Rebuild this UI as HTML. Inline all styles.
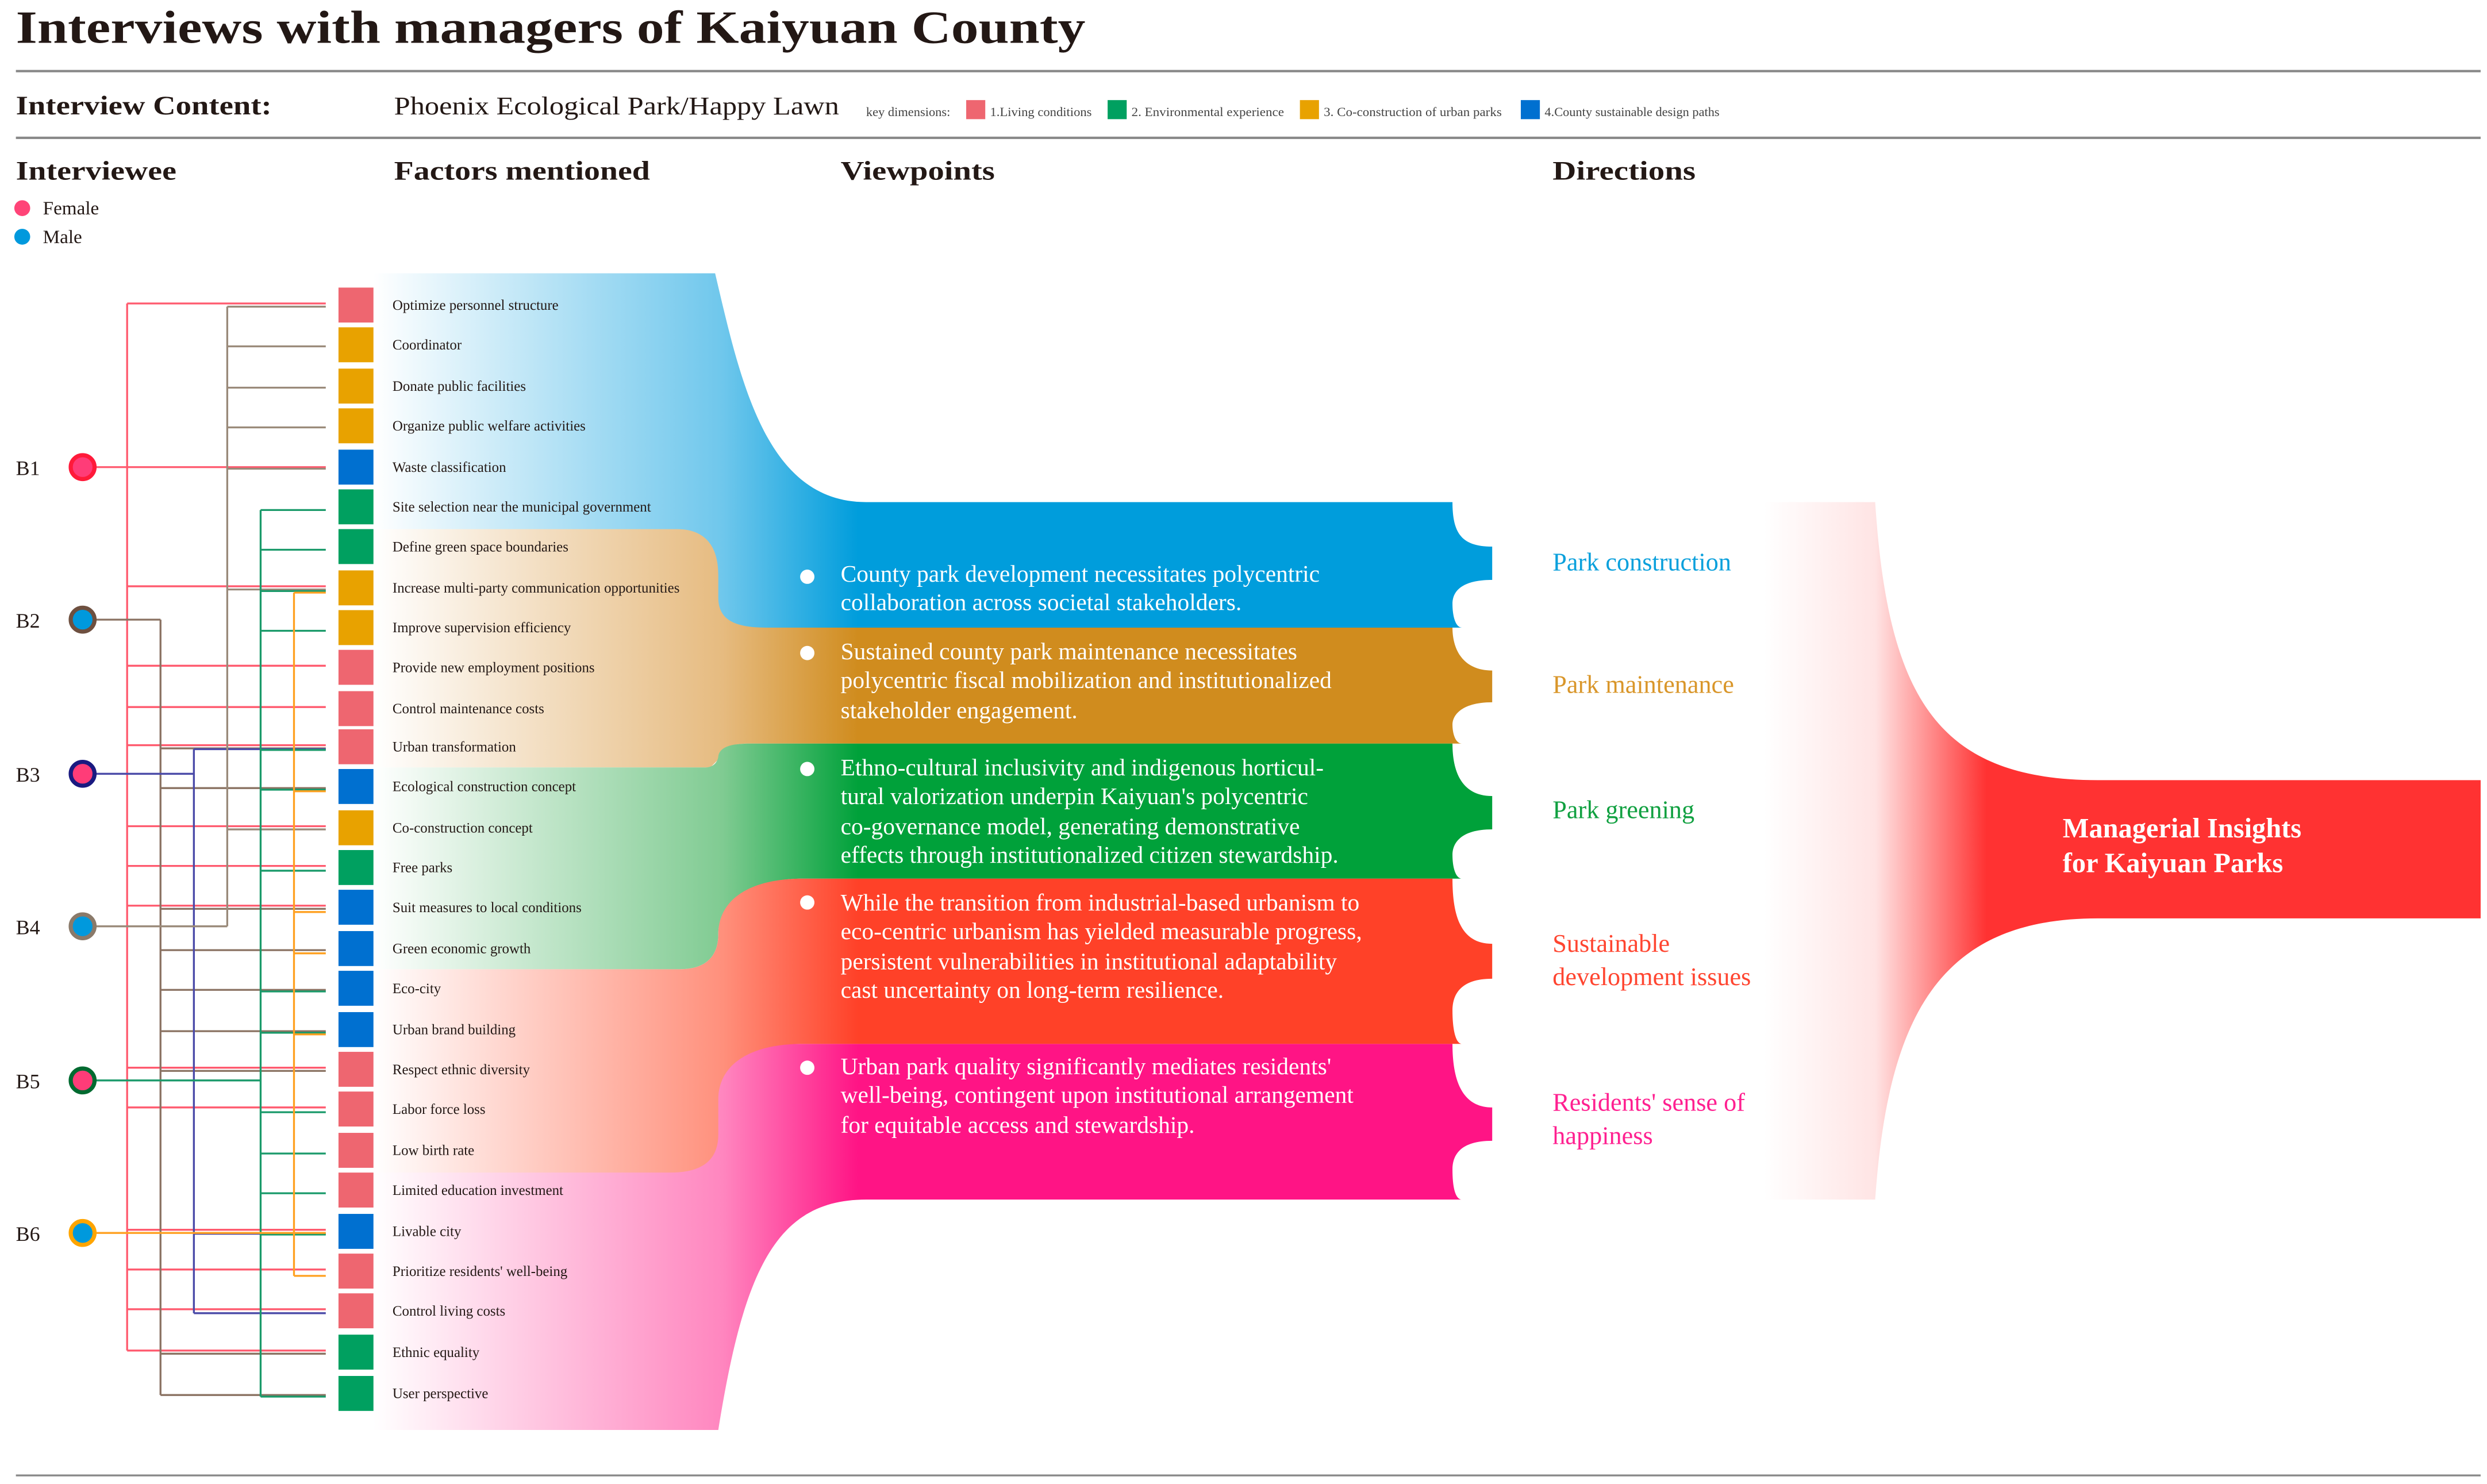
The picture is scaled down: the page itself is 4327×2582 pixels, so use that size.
<!DOCTYPE html>
<html><head><meta charset="utf-8"><style>
html,body{margin:0;padding:0;background:#fff;}
svg{display:block;}
text{font-family:"Liberation Serif",serif;}
</style></head><body>
<svg xmlns="http://www.w3.org/2000/svg" width="4327" height="2582" viewBox="0 0 1565 934" preserveAspectRatio="none">
<defs>
<linearGradient id="gB" gradientUnits="userSpaceOnUse" x1="235" y1="0" x2="540" y2="0"><stop offset="0" stop-color="#fff"/><stop offset="0.72" stop-color="#6fc7ec"/><stop offset="1" stop-color="#009ddc"/></linearGradient>
<linearGradient id="gT" gradientUnits="userSpaceOnUse" x1="235" y1="0" x2="540" y2="0"><stop offset="0" stop-color="#fff"/><stop offset="0.72" stop-color="#e6bb80"/><stop offset="1" stop-color="#d08c1e"/></linearGradient>
<linearGradient id="gG" gradientUnits="userSpaceOnUse" x1="235" y1="0" x2="540" y2="0"><stop offset="0" stop-color="#fff"/><stop offset="0.72" stop-color="#80cb92"/><stop offset="1" stop-color="#00a13a"/></linearGradient>
<linearGradient id="gR" gradientUnits="userSpaceOnUse" x1="235" y1="0" x2="540" y2="0"><stop offset="0" stop-color="#fff"/><stop offset="0.72" stop-color="#ff907c"/><stop offset="1" stop-color="#ff4128"/></linearGradient>
<linearGradient id="gP" gradientUnits="userSpaceOnUse" x1="235" y1="0" x2="540" y2="0"><stop offset="0" stop-color="#fff"/><stop offset="0.72" stop-color="#ff86bf"/><stop offset="1" stop-color="#ff1485"/></linearGradient>
<linearGradient id="gF" gradientUnits="userSpaceOnUse" x1="1110" y1="0" x2="1250" y2="0"><stop offset="0" stop-color="#fff"/><stop offset="0.5" stop-color="#ffe4e4"/><stop offset="1" stop-color="#ff3232"/></linearGradient>
</defs>

<!-- header -->
<text x="10" y="27" font-size="29" font-weight="bold" fill="#231815" textLength="673" lengthAdjust="spacingAndGlyphs">Interviews with managers of Kaiyuan County</text>
<rect x="10" y="44" width="1551" height="1.5" fill="#888"/>
<text x="10" y="72" font-size="17" font-weight="bold" fill="#231815" textLength="161" lengthAdjust="spacingAndGlyphs">Interview Content:</text>
<text x="248" y="72" font-size="16" fill="#231815" textLength="280" lengthAdjust="spacingAndGlyphs">Phoenix Ecological Park/Happy Lawn</text>
<text x="545" y="73" font-size="8" fill="#444" textLength="53" lengthAdjust="spacingAndGlyphs">key dimensions:</text>
<rect x="608" y="63" width="12" height="12" fill="#ee6670"/><text x="623" y="73" font-size="8" fill="#444" textLength="64" lengthAdjust="spacingAndGlyphs">1.Living conditions</text>
<rect x="697" y="63" width="12" height="12" fill="#00a060"/><text x="712" y="73" font-size="8" fill="#444" textLength="96" lengthAdjust="spacingAndGlyphs">2. Environmental experience</text>
<rect x="818" y="63" width="12" height="12" fill="#e8a200"/><text x="833" y="73" font-size="8" fill="#444" textLength="112" lengthAdjust="spacingAndGlyphs">3. Co-construction of urban parks</text>
<rect x="957" y="63" width="12" height="12" fill="#0070d0"/><text x="972" y="73" font-size="8" fill="#444" textLength="110" lengthAdjust="spacingAndGlyphs">4.County sustainable design paths</text>
<rect x="10" y="86" width="1551" height="1.5" fill="#888"/>
<text x="10" y="113" font-size="17" font-weight="bold" fill="#231815" textLength="101" lengthAdjust="spacingAndGlyphs">Interviewee</text>
<text x="248" y="113" font-size="17" font-weight="bold" fill="#231815" textLength="161" lengthAdjust="spacingAndGlyphs">Factors mentioned</text>
<text x="529" y="113" font-size="17" font-weight="bold" fill="#231815" textLength="97" lengthAdjust="spacingAndGlyphs">Viewpoints</text>
<text x="977" y="113" font-size="17" font-weight="bold" fill="#231815" textLength="90" lengthAdjust="spacingAndGlyphs">Directions</text>
<circle cx="14" cy="131" r="5" fill="#ff4478"/><text x="27" y="135" font-size="12" fill="#231815">Female</text>
<circle cx="14" cy="149" r="5" fill="#0099dd"/><text x="27" y="153" font-size="12" fill="#231815">Male</text>
<rect x="10" y="928" width="1551" height="1.2" fill="#888"/>

<!-- bands -->
<path fill="url(#gB)" d="M235,172 L450,172 C466,240 482,316 545,316 L914,316 C914,336 920,344 939,344 L939,365 C920,365 914,372 914,380 C914,388 916,395 920,395 L235,395 Z"/>
<path fill="url(#gT)" d="M235,333 L426,333 C444,333 452,344 452,362 L452,376 C452,390 462,395 482,395 L914,395 C914,408 920,422 939,422 L939,442 C920,442 914,450 914,456 C914,462 916,468 920,468 L470,468 C456,468 452,474 452,478 L447,483 L235,483 Z"/>
<path fill="url(#gG)" d="M235,483 L444,483 C450,483 452,478 452,476 C453,470 460,468 472,468 L914,468 C914,486 920,501 939,501 L939,522 C920,522 914,530 914,538 C914,546 916,553 920,553 L505,553 C472,553 452,568 452,588 C452,602 444,610 428,610 L235,610 Z"/>
<path fill="url(#gP)" d="M235,700 L440,700 L440,657 L914,657 C914,680 920,697 939,697 L939,718 C920,718 914,726 914,736 C914,748 916,755 920,755 L545,755 C488,755 468,800 452,900 L235,900 Z"/>
<path fill="url(#gR)" d="M235,610 L428,610 C444,610 452,602 452,588 C452,566 472,553 505,553 L914,553 C914,578 920,594 939,594 L939,616 C920,616 914,625 914,636 C914,648 916,657 920,657 L505,657 C472,657 452,670 452,692 L452,714 C452,730 442,738 422,738 L235,738 Z"/>

<!-- funnel -->
<path fill="url(#gF)" d="M960,316 L1180,316 C1188,440 1220,491 1320,491 L1561,491 L1561,578 L1320,578 C1220,578 1188,640 1180,755 L960,755 Z"/>
<text x="1298" y="527" font-size="17.5" font-weight="bold" fill="#fff">Managerial Insights</text>
<text x="1298" y="549" font-size="17.5" font-weight="bold" fill="#fff">for Kaiyuan Parks</text>

<!-- directions -->
<g font-size="16">
<text x="977" y="359" fill="#0aa0dc">Park construction</text>
<text x="977" y="436" fill="#d9962a">Park maintenance</text>
<text x="977" y="515" fill="#10a040">Park greening</text>
<text x="977" y="599" fill="#ff4530">Sustainable</text>
<text x="977" y="620" fill="#ff4530">development issues</text>
<text x="977" y="699" fill="#ff2090">Residents' sense of</text>
<text x="977" y="720" fill="#ff2090">happiness</text>
</g>

<!-- viewpoints -->
<g font-size="15" fill="#fff">
<circle cx="508" cy="363" r="4.5"/><text x="529" y="366">County park development necessitates polycentric</text><text x="529" y="384">collaboration across societal stakeholders.</text>
<circle cx="508" cy="411" r="4.5"/><text x="529" y="415">Sustained county park maintenance necessitates</text><text x="529" y="433">polycentric fiscal mobilization and institutionalized</text><text x="529" y="452">stakeholder engagement.</text>
<circle cx="508" cy="484" r="4.5"/><text x="529" y="488">Ethno-cultural inclusivity and indigenous horticul-</text><text x="529" y="506">tural valorization underpin Kaiyuan's polycentric</text><text x="529" y="525">co-governance model, generating demonstrative</text><text x="529" y="543">effects through institutionalized citizen stewardship.</text>
<circle cx="508" cy="568" r="4.5"/><text x="529" y="573">While the transition from industrial-based urbanism to</text><text x="529" y="591">eco-centric urbanism has yielded measurable progress,</text><text x="529" y="610">persistent vulnerabilities in institutional adaptability</text><text x="529" y="628">cast uncertainty on long-term resilience.</text>
<circle cx="508" cy="672" r="4.5"/><text x="529" y="676">Urban park quality significantly mediates residents'</text><text x="529" y="694">well-being, contingent upon institutional arrangement</text><text x="529" y="713">for equitable access and stewardship.</text>
</g>

<!-- connectors -->
<g fill="none" stroke-width="1.2">
<path stroke="#ff5a6e" d="M80,191V850 M80,191H205 M60,294H205 M80,369H205 M80,419H205 M80,445H205 M80,469H205 M80,520H205 M80,545H205 M80,570H205 M80,672H205 M80,697H205 M80,774H205 M80,799H205 M80,824H205 M80,850H205"/>
<path stroke="#8a7262" d="M60,390H101 M101,390V878 M101,471H205 M101,496H205 M101,572H205 M101,598H205 M101,623H205 M101,649H205 M101,674H205 M101,852H205 M101,878H205"/>
<path stroke="#4a4aa8" d="M60,487H122 M122,471.5V826.5 M122,471.5H205 M122,776.5H205 M122,826.5H205"/>
<path stroke="#9a8a7a" d="M60,583H143 M143,193V583 M143,193H205 M143,218H205 M143,244H205 M143,269H205 M143,295H205 M143,371H205 M143,522H205"/>
<path stroke="#1a9a6a" d="M60,680H164 M164,321V879 M164,321H205 M164,346H205 M164,372H205 M164,397H205 M164,472H205 M164,497H205 M164,548H205 M164,624H205 M164,650H205 M164,700H205 M164,726H205 M164,751H205 M164,777H205 M164,879H205"/>
<path stroke="#ffa020" d="M60,776H205 M185,373V803 M185,373H205 M185,498H205 M185,574H205 M185,600H205 M185,651H205 M185,803H205"/>
</g>

<!-- interviewees -->
<g font-size="13" fill="#231815">
<text x="10" y="299">B1</text><text x="10" y="395">B2</text><text x="10" y="492">B3</text><text x="10" y="588">B4</text><text x="10" y="685">B5</text><text x="10" y="781">B6</text>
</g>
<g stroke-width="2.6">
<circle cx="52" cy="294" r="7.5" fill="#ff3c78" stroke="#ff1a3a"/>
<circle cx="52" cy="390" r="7.5" fill="#0099dd" stroke="#6e5040"/>
<circle cx="52" cy="487" r="7.5" fill="#ff3c78" stroke="#1a1a80"/>
<circle cx="52" cy="583" r="7.5" fill="#0099dd" stroke="#8a7a6a"/>
<circle cx="52" cy="680" r="7.5" fill="#ff3c78" stroke="#006a30"/>
<circle cx="52" cy="776" r="7.5" fill="#0099dd" stroke="#ffa500"/>
</g>

<!-- factor squares -->
<g>
<rect x="213" y="181" width="22" height="22" fill="#ee6670"/>
<rect x="213" y="206" width="22" height="22" fill="#e8a200"/>
<rect x="213" y="232" width="22" height="22" fill="#e8a200"/>
<rect x="213" y="257" width="22" height="22" fill="#e8a200"/>
<rect x="213" y="283" width="22" height="22" fill="#0070d0"/>
<rect x="213" y="308" width="22" height="22" fill="#00a060"/>
<rect x="213" y="333" width="22" height="22" fill="#00a060"/>
<rect x="213" y="359" width="22" height="22" fill="#e8a200"/>
<rect x="213" y="384" width="22" height="22" fill="#e8a200"/>
<rect x="213" y="409" width="22" height="22" fill="#ee6670"/>
<rect x="213" y="435" width="22" height="22" fill="#ee6670"/>
<rect x="213" y="459" width="22" height="22" fill="#ee6670"/>
<rect x="213" y="484" width="22" height="22" fill="#0070d0"/>
<rect x="213" y="510" width="22" height="22" fill="#e8a200"/>
<rect x="213" y="535" width="22" height="22" fill="#00a060"/>
<rect x="213" y="560" width="22" height="22" fill="#0070d0"/>
<rect x="213" y="586" width="22" height="22" fill="#0070d0"/>
<rect x="213" y="611" width="22" height="22" fill="#0070d0"/>
<rect x="213" y="637" width="22" height="22" fill="#0070d0"/>
<rect x="213" y="662" width="22" height="22" fill="#ee6670"/>
<rect x="213" y="687" width="22" height="22" fill="#ee6670"/>
<rect x="213" y="713" width="22" height="22" fill="#ee6670"/>
<rect x="213" y="738" width="22" height="22" fill="#ee6670"/>
<rect x="213" y="764" width="22" height="22" fill="#0070d0"/>
<rect x="213" y="789" width="22" height="22" fill="#ee6670"/>
<rect x="213" y="814" width="22" height="22" fill="#ee6670"/>
<rect x="213" y="840" width="22" height="22" fill="#00a060"/>
<rect x="213" y="866" width="22" height="22" fill="#00a060"/>
</g>
<g font-size="9" fill="#231815">
<text x="247" y="195">Optimize personnel structure</text>
<text x="247" y="220">Coordinator</text>
<text x="247" y="246">Donate public facilities</text>
<text x="247" y="271">Organize public welfare activities</text>
<text x="247" y="297">Waste classification</text>
<text x="247" y="322">Site selection near the municipal government</text>
<text x="247" y="347">Define green space boundaries</text>
<text x="247" y="373">Increase multi-party communication opportunities</text>
<text x="247" y="398">Improve supervision efficiency</text>
<text x="247" y="423">Provide new employment positions</text>
<text x="247" y="449">Control maintenance costs</text>
<text x="247" y="473">Urban transformation</text>
<text x="247" y="498">Ecological construction concept</text>
<text x="247" y="524">Co-construction concept</text>
<text x="247" y="549">Free parks</text>
<text x="247" y="574">Suit measures to local conditions</text>
<text x="247" y="600">Green economic growth</text>
<text x="247" y="625">Eco-city</text>
<text x="247" y="651">Urban brand building</text>
<text x="247" y="676">Respect ethnic diversity</text>
<text x="247" y="701">Labor force loss</text>
<text x="247" y="727">Low birth rate</text>
<text x="247" y="752">Limited education investment</text>
<text x="247" y="778">Livable city</text>
<text x="247" y="803">Prioritize residents' well-being</text>
<text x="247" y="828">Control living costs</text>
<text x="247" y="854">Ethnic equality</text>
<text x="247" y="880">User perspective</text>
</g>
</svg>
</body></html>
